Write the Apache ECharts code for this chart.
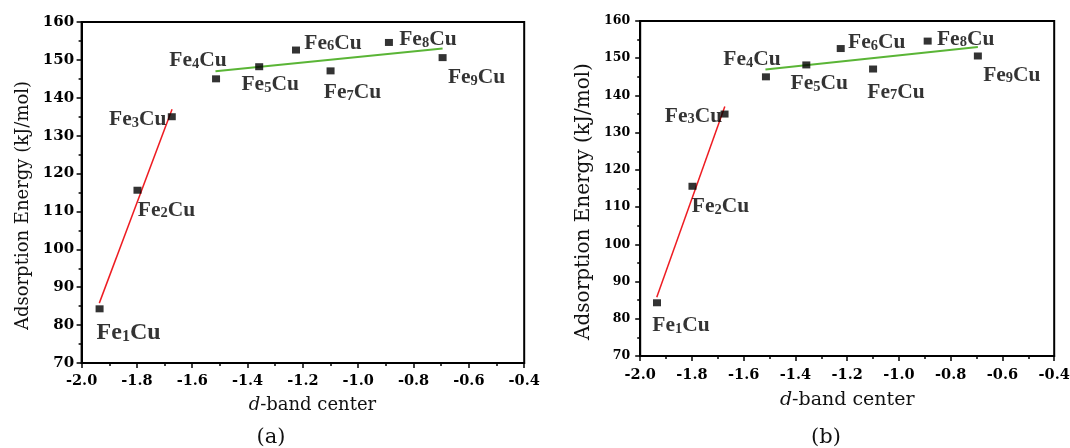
<!DOCTYPE html>
<html><head><meta charset="utf-8">
<script src="https://cdn.jsdelivr.net/npm/echarts@6/dist/echarts.min.js"></script>
<style>html,body{margin:0;padding:0;background:#fff}#c{width:1070px;height:448px}</style>
</head><body><div id="c"></div>
<script>
// ---- data ----
const clusterSub = ['1','2','3','4','5','6','7','8','9'];           // Fe_nCu subscript n
const dBandCenter = [-1.935, -1.798, -1.674, -1.514, -1.358, -1.225, -1.100, -0.889, -0.695];
const adsEnergy   = [84.3, 115.6, 135.0, 145.0, 148.2, 152.6, 147.1, 154.6, 150.6];
const redFitX   = [-1.936, -1.673];
const redFitY   = [85.8, 137.0];
const greenFitX = [-1.516, -0.695];
const greenFitY = [147.0, 153.0];
const xTickMin = -2.0, xTickMax = -0.4, xTickStep = 0.2;
const yTickMin = 70,   yTickMax = 160,  yTickStep = 10;
const yTitle = 'Adsorption Energy (kJ/mol)';
const panelTags = ['(a)', '(b)'];

// ---- label layout (offsets of each label from its point, px) ----
const labelOffA = [[29,24],[29,20],[-34,3],[-18,-18],[11,18],[37,-7],[22,22],[39,-3],[34,20]];
const labelOffB = [[24,23],[28,20],[-31,2],[-14,-17],[13,19],[36,-6],[23,23],[38,-2],[34,19]];

const SERIF_B = 'Liberation Serif';
const WIDE = 'DejaVu Serif';

function richLabel(big) {
  return {
    a: {fontFamily: SERIF_B, fontWeight: 'bold', fontSize: big ? 24 : 21.5, lineHeight: big ? 25 : 22, color: '#000', verticalAlign: 'middle'},
    s: {fontFamily: SERIF_B, fontWeight: 'bold', fontSize: big ? 16 : 14.5, lineHeight: big ? 14 : 12, color: '#000', verticalAlign: 'bottom'}
  };
}

function scatterData(offs, bigFirst) {
  return dBandCenter.map((x, i) => ({
    value: [x, adsEnergy[i]],
    label: {
      show: true, position: 'inside', offset: offs[i], color: '#000',
      formatter: '{a|Fe}{s|' + clusterSub[i] + '}{a|Cu}',
      rich: richLabel(bigFirst && i === 0)
    }
  }));
}

function xAxisCfg(gi, labelMargin, nameSize, nameGap, namePadLeft) {
  return {
    gridIndex: gi, type: 'value', min: xTickMin, max: xTickMax, interval: xTickStep,
    axisLine: {show: true, onZero: false, lineStyle: {color: '#000', width: 2}},
    axisTick: {show: true, inside: false, length: 5, lineStyle: {color: '#000', width: 1.5}},
    minorTick: {show: true, splitNumber: 2, length: 3, lineStyle: {color: '#000', width: 1.5}},
    splitLine: {show: false},
    axisLabel: {show: true, margin: labelMargin, color: '#000', fontFamily: WIDE, fontWeight: 'bold', fontSize: 14.5,
      showMinLabel: true, showMaxLabel: true, hideOverlap: false,
      formatter: v => v.toFixed(1)},
    name: '{i|d}{n|-band center}', nameLocation: 'middle', nameGap: nameGap,
    nameTextStyle: {padding: [0, 0, 0, namePadLeft], rich: {
      i: {fontFamily: WIDE, fontStyle: 'italic', fontSize: nameSize, color: '#111'},
      n: {fontFamily: WIDE, fontSize: nameSize, color: '#111'}}}
  };
}

function yAxisCfg(gi, labelMargin, labelSize, nameSize, nameGap) {
  return {
    gridIndex: gi, type: 'value', min: yTickMin, max: yTickMax, interval: yTickStep,
    axisLine: {show: true, onZero: false, lineStyle: {color: '#000', width: 2}},
    axisTick: {show: true, inside: false, length: 5, lineStyle: {color: '#000', width: 1.5}},
    minorTick: {show: true, splitNumber: 2, length: 3, lineStyle: {color: '#000', width: 1.5}},
    splitLine: {show: false},
    axisLabel: {show: true, margin: labelMargin, color: '#000', fontFamily: WIDE, fontWeight: 'bold', fontSize: labelSize,
      showMinLabel: true, showMaxLabel: true, hideOverlap: false},
    name: yTitle, nameLocation: 'middle', nameGap: nameGap, nameRotate: 90,
    nameTextStyle: {fontFamily: WIDE, fontSize: nameSize, color: '#111', padding: [0, 26, 0, 0]}
  };
}

function fitLine(xs, ys) { return xs.map((x, i) => [x, ys[i]]); }

const option = {
  animation: false,
  backgroundColor: '#fff',
  grid: [
    {left: 81.6, top: 22, width: 442.6, height: 341, show: true, borderColor: '#000', borderWidth: 2, outerBoundsMode: 'none', containLabel: false},
    {left: 640.2, top: 21, width: 414, height: 335, show: true, borderColor: '#000', borderWidth: 2, outerBoundsMode: 'none', containLabel: false}
  ],
  xAxis: [xAxisCfg(0, 11, 18, 33, 19), xAxisCfg(1, 12, 19, 35, 0)],
  yAxis: [yAxisCfg(0, 7.5, 15, 18, 49), yAxisCfg(1, 10, 12.5, 20, 46.5)],
  series: [
    {type: 'line', xAxisIndex: 0, yAxisIndex: 0, data: fitLine(redFitX, redFitY), symbol: 'none', lineStyle: {color: '#ee1c22', width: 1.5}, z: 2},
    {type: 'line', xAxisIndex: 0, yAxisIndex: 0, data: fitLine(greenFitX, greenFitY), symbol: 'none', lineStyle: {color: '#5ab536', width: 2}, z: 2},
    {type: 'scatter', xAxisIndex: 0, yAxisIndex: 0, symbol: 'rect', symbolSize: [8, 7], itemStyle: {color: '#000'}, data: scatterData(labelOffA, true), z: 3},
    {type: 'line', xAxisIndex: 1, yAxisIndex: 1, data: fitLine(redFitX, redFitY), symbol: 'none', lineStyle: {color: '#ee1c22', width: 1.5}, z: 2},
    {type: 'line', xAxisIndex: 1, yAxisIndex: 1, data: fitLine(greenFitX, greenFitY), symbol: 'none', lineStyle: {color: '#5ab536', width: 2}, z: 2},
    {type: 'scatter', xAxisIndex: 1, yAxisIndex: 1, symbol: 'rect', symbolSize: [8, 7], itemStyle: {color: '#000'}, data: scatterData(labelOffB, false), z: 3}
  ],
  graphic: [
    {type: 'text', x: 271, y: 438, style: {text: panelTags[0], fontFamily: WIDE, fontSize: 21, fill: '#111', align: 'center', verticalAlign: 'middle'}},
    {type: 'text', x: 826, y: 438, style: {text: panelTags[1], fontFamily: WIDE, fontSize: 21, fill: '#111', align: 'center', verticalAlign: 'middle'}}
  ]
};
const chart = echarts.init(document.getElementById('c'), null, {renderer: 'canvas'});
chart.setOption(option);
</script>
</body></html>
